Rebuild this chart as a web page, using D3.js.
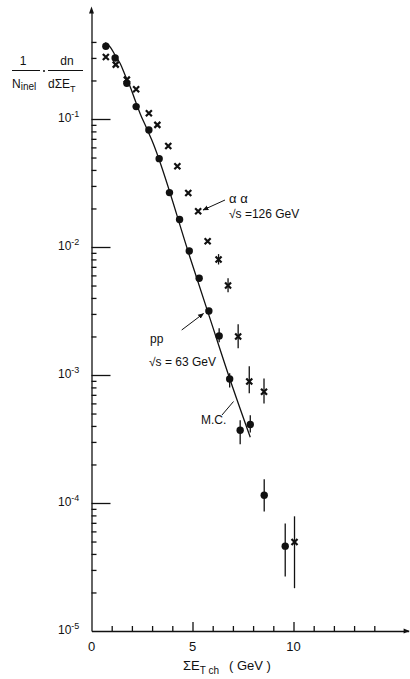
<!DOCTYPE html>
<html>
<head>
<meta charset="utf-8">
<script src="https://cdnjs.cloudflare.com/ajax/libs/d3/7.8.5/d3.min.js"></script>
<style>
  body { margin: 0; background: #fff; }
  text { font-family: "Liberation Sans", "DejaVu Sans", sans-serif; fill: #111; }
</style>
</head>
<body>
<div id="chart"></div>
<script>
// pp, sqrt(s) = 63 GeV (filled circles)
var ppE  = [0.71, 1.17, 1.75, 2.21, 2.84, 3.35, 3.86, 4.36, 4.84, 5.33, 5.81, 6.32, 6.84, 7.36, 7.86, 8.55, 9.59];
var ppY  = [0.37, 0.30, 0.19, 0.125, 0.082, 0.049, 0.0266, 0.0164, 0.0093, 0.0057, 0.00316, 0.00202, 0.00093, 0.00037, 0.00041, 0.000115, 0.000046];
var ppLo = [null, null, null, null, null, null, null, null, null, null, null, 0.0018, 0.0008, 0.000288, 0.000356, 0.000086, 0.0000267];
var ppHi = [null, null, null, null, null, null, null, null, null, null, null, 0.00232, 0.00103, 0.000443, 0.000484, 0.000153, 0.0000693];

// alpha alpha, sqrt(s) = 126 GeV (crosses)
var aaE  = [0.71, 1.2, 1.75, 2.21, 2.84, 3.26, 3.8, 4.25, 4.79, 5.28, 5.75, 6.29, 6.76, 7.26, 7.81, 8.54, 10.05];
var aaY  = [0.305, 0.266, 0.203, 0.171, 0.111, 0.090, 0.0615, 0.0427, 0.0264, 0.019, 0.0111, 0.0080, 0.0050, 0.0020, 0.00089, 0.00074, 0.0000495];
var aaLo = [null, null, null, null, null, null, null, null, null, null, null, 0.0073, 0.00443, 0.00162, 0.00072, 0.0006, 0.0000216];
var aaHi = [null, null, null, null, null, null, null, null, null, null, null, 0.0088, 0.00569, 0.00249, 0.00117, 0.00094, 0.0000787];

// Monte Carlo curve
var mcE = [0.68, 0.93, 1.17, 1.42, 1.67, 1.92, 2.16, 2.41, 2.74, 2.99, 4.89, 5.88, 6.87, 7.86];
var mcY = [0.395, 0.365, 0.315, 0.271, 0.219, 0.178, 0.140, 0.110, 0.0841, 0.0682, 0.00817, 0.00272, 0.00091, 0.000326];

var xMajor = [0, 5, 10];
var xMinor = [1, 2, 3, 4, 6, 7, 8, 9, 11, 12, 13, 14];
var yDecades = [1e-1, 1e-2, 1e-3, 1e-4];
var yExp = ["-1", "-2", "-3", "-4", "-5"];
var yLabelVals = [1e-1, 1e-2, 1e-3, 1e-4, 1e-5];

const width = 410;
const height = 679;

const x = d3.scaleLinear().domain([0, 10]).range([91.5, 293.5]);
const y = d3.scaleLog().domain([1e-5, 1e-1]).range([631, 119]);

var yMinor = [];
[1e-5, 1e-4, 1e-3, 1e-2].forEach(function (d) {
    for (var k = 2; k <= 9; k++) yMinor.push(d * k);
});
yMinor.push(0.2, 0.3, 0.4);

const svg = d3.select("#chart").append("svg")
    .attr("width", width)
    .attr("height", height)
    .attr("viewBox", [0, 0, width, height]);

svg.append("defs").append("marker")
    .attr("id", "head")
    .attr("viewBox", "0 0 10 10")
    .attr("refX", 9).attr("refY", 5)
    .attr("markerWidth", 6).attr("markerHeight", 6)
    .attr("orient", "auto")
    .append("path")
    .attr("d", "M0,1 L10,5 L0,9 Z")
    .attr("fill", "#111");

// axes
const xAx = x.copy().domain([0, 15.7]).range([x(0), x(15.7)]);
const yAx = y.copy().domain([1e-5, 0.68]).range([y(1e-5), y(0.68)]);

svg.append("g")
    .attr("transform", `translate(0,${y(1e-5)})`)
    .call(d3.axisBottom(xAx).tickValues(xMinor).tickSizeInner(-5).tickSizeOuter(0).tickFormat(() => ""))
    .call(g => g.selectAll("line,path").attr("stroke", "#111").attr("stroke-width", 1.3));

svg.append("g")
    .attr("transform", `translate(0,${y(1e-5)})`)
    .call(d3.axisBottom(xAx).tickValues([5, 10]).tickSizeInner(-9).tickSizeOuter(0).tickFormat(() => ""))
    .call(g => g.select(".domain").remove())
    .call(g => g.selectAll("line").attr("stroke", "#111").attr("stroke-width", 1.3));

svg.append("g")
    .attr("transform", `translate(${x(0)},0)`)
    .call(d3.axisLeft(yAx).tickValues(yMinor).tickSizeInner(-5).tickSizeOuter(0).tickFormat(() => ""))
    .call(g => g.selectAll("line,path").attr("stroke", "#111").attr("stroke-width", 1.3));

svg.append("g")
    .attr("transform", `translate(${x(0)},0)`)
    .call(d3.axisLeft(yAx).tickValues(yDecades).tickSizeInner(-19).tickSizeOuter(0).tickFormat(() => ""))
    .call(g => g.select(".domain").remove())
    .call(g => g.selectAll("line").attr("stroke", "#111").attr("stroke-width", 1.3));

// axis arrow heads
svg.append("path")
    .attr("d", `M${x(0)},${yAx(0.68) - 6} L${x(0) - 2.5},${yAx(0.68) + 1} L${x(0) + 2.5},${yAx(0.68) + 1} Z`)
    .attr("fill", "#111");
svg.append("path")
    .attr("d", `M${xAx(15.7) + 1},${y(1e-5)} L${xAx(15.7) - 5},${y(1e-5) - 2.5} L${xAx(15.7) - 5},${y(1e-5) + 2.5} Z`)
    .attr("fill", "#111");

// tick labels
svg.selectAll(".xl").data(xMajor).join("text")
    .attr("x", d => x(d))
    .attr("y", 651)
    .attr("text-anchor", "middle")
    .attr("font-size", 13)
    .text(d => d);

const yl = svg.selectAll(".yl").data(yLabelVals).join("text")
    .attr("x", 58)
    .attr("y", d => y(d) + 3)
    .attr("font-size", 12);
yl.append("tspan").text("10");
yl.append("tspan").attr("dy", -5).attr("font-size", 9).text((d, i) => yExp[i]);

// y title: 1/N_inel . dn/dSigmaE_T
const yt = svg.append("g");
yt.append("text").attr("x", 23).attr("y", 65).attr("text-anchor", "middle").attr("font-size", 12).text("1");
yt.append("line").attr("x1", 12).attr("x2", 40).attr("y1", 70.5).attr("y2", 70.5).attr("stroke", "#111").attr("stroke-width", 1);
yt.append("circle").attr("cx", 44).attr("cy", 71).attr("r", 1).attr("fill", "#111");
yt.append("line").attr("x1", 48).attr("x2", 83).attr("y1", 70.5).attr("y2", 70.5).attr("stroke", "#111").attr("stroke-width", 1);
const ni = yt.append("text").attr("x", 12).attr("y", 88).attr("font-size", 12);
ni.append("tspan").text("N");
ni.append("tspan").attr("dy", 2).attr("font-size", 10).text("inel");
yt.append("text").attr("x", 67).attr("y", 65).attr("text-anchor", "middle").attr("font-size", 12).text("dn");
const de = yt.append("text").attr("x", 48).attr("y", 88).attr("font-size", 12);
de.append("tspan").text("dΣE");
de.append("tspan").attr("dy", 4).attr("font-size", 9).text("T");

// x title
const xt = svg.append("text").attr("x", 183).attr("y", 670).attr("font-size", 13);
xt.append("tspan").text("ΣE");
xt.append("tspan").attr("dy", 4).attr("font-size", 10).text("T ch");
xt.append("tspan").attr("dy", -4).attr("dx", 10).text("( GeV )");

// MC curve
const mc = mcE.map((e, i) => [e, mcY[i]]);
svg.append("path")
    .datum(mc)
    .attr("fill", "none")
    .attr("stroke", "#111")
    .attr("stroke-width", 1.3)
    .attr("d", d3.line().x(d => x(d[0])).y(d => y(d[1])).curve(d3.curveMonotoneX));

// error bars
function bars(E, Lo, Hi, cls) {
    const idx = d3.range(E.length).filter(i => Lo[i] != null);
    svg.selectAll("." + cls).data(idx).join("line")
        .attr("class", cls)
        .attr("x1", i => x(E[i])).attr("x2", i => x(E[i]))
        .attr("y1", i => y(Lo[i])).attr("y2", i => y(Hi[i]))
        .attr("stroke", "#111").attr("stroke-width", 1.3);
}
bars(ppE, ppLo, ppHi, "ppbar");
bars(aaE, aaLo, aaHi, "aabar");

// pp points
svg.selectAll(".pp").data(ppE).join("circle")
    .attr("cx", d => x(d))
    .attr("cy", (d, i) => y(ppY[i]))
    .attr("r", 3.7)
    .attr("fill", "#111");

// alpha alpha points
const s = 3;
svg.selectAll(".aa").data(aaE).join("path")
    .attr("d", (d, i) => {
        const cx = x(d), cy = y(aaY[i]);
        return `M${cx - s},${cy - s}L${cx + s},${cy + s}M${cx - s},${cy + s}L${cx + s},${cy - s}`;
    })
    .attr("stroke", "#111")
    .attr("stroke-width", 2.2);

// annotations
svg.append("line").attr("x1", 225).attr("y1", 200).attr("x2", 203).attr("y2", 210)
    .attr("stroke", "#111").attr("stroke-width", 1).attr("marker-end", "url(#head)");
svg.append("text").attr("x", 229).attr("y", 203).attr("font-size", 13).text("α α");
svg.append("text").attr("x", 229).attr("y", 218).attr("font-size", 12).text("√s =126 GeV");

svg.append("line").attr("x1", 181.7).attr("y1", 330).attr("x2", 203.5).attr("y2", 313.5)
    .attr("stroke", "#111").attr("stroke-width", 1).attr("marker-end", "url(#head)");
svg.append("text").attr("x", 150).attr("y", 343).attr("font-size", 12).text("pp");
svg.append("text").attr("x", 149).attr("y", 366).attr("font-size", 12).text("√s = 63 GeV");

svg.append("line").attr("x1", 222).attr("y1", 415).attr("x2", 233.5).attr("y2", 401.5)
    .attr("stroke", "#111").attr("stroke-width", 1);
svg.append("text").attr("x", 201).attr("y", 424).attr("font-size", 12).text("M.C.");
</script>
</body>
</html>
